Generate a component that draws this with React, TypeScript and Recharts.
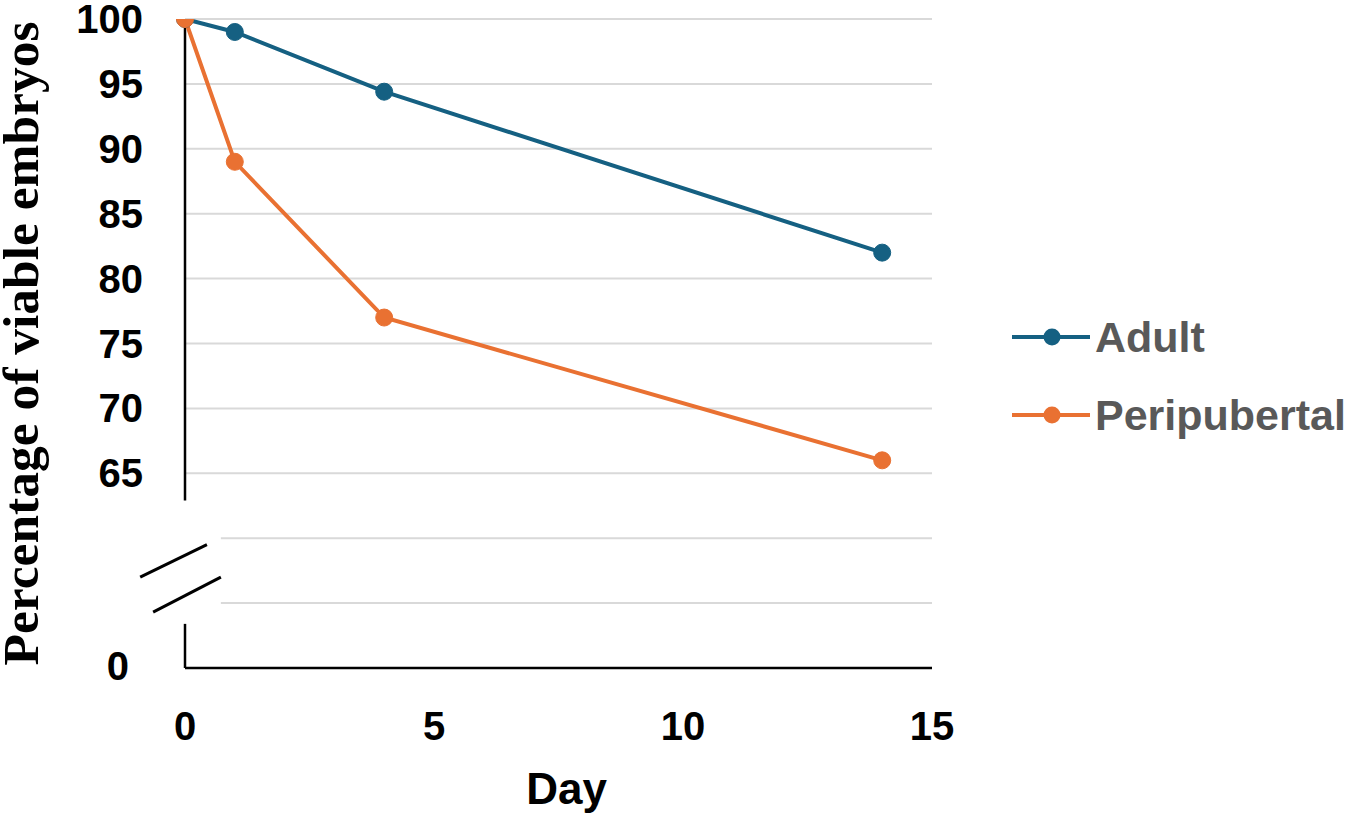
import { LineChart, Line, XAxis, YAxis, ReferenceLine } from 'recharts';

// day of sampling and % viable embryos for each group
const days = [0, 1, 4, 14];
const adult = [100, 99, 94.4, 82];
const peripubertal = [100, 89, 77, 66];

const seriesKeys = ['adult', 'peripubertal'];
const seriesNames = ['Adult', 'Peripubertal'];
const seriesColors = ['#156082', '#E97132'];

const xTicks = [0, 5, 10, 15];
// the axis is broken: the bottom of the scale (50) carries the "0" label
const yTicks = [50, 65, 70, 75, 80, 85, 90, 95, 100];
const fullGrid = [65, 70, 75, 80, 85, 90, 95, 100];
const brokenGrid = [55, 60];

const data = days.map((day, i) => ({ day, adult: adult[i], peripubertal: peripubertal[i] }));

const tickFont = '"Liberation Sans", Arial, sans-serif';

function YTick({ x, y, payload }: any) {
  const zero = payload.value === 50;
  return (
    <text
      x={x - (zero ? 56 : 42)}
      y={y}
      dy={zero ? 12 : 14}
      textAnchor="end"
      fontFamily={tickFont}
      fontWeight="bold"
      fontSize={40}
      fill="#000"
    >
      {zero ? '0' : payload.value}
    </text>
  );
}

function XTick({ x, y, payload }: any) {
  return (
    <text
      x={x}
      y={y + 72}
      textAnchor="middle"
      fontFamily={tickFont}
      fontWeight="bold"
      fontSize={40}
      fill="#000"
    >
      {payload.value}
    </text>
  );
}

function YLabel({ viewBox }: any) {
  const cx = viewBox.x + 38;
  const cy = viewBox.y + viewBox.height / 2;
  return (
    <text
      x={cx}
      y={cy}
      transform={`rotate(-90, ${cx}, ${cy})`}
      textAnchor="middle"
      fontFamily='"Liberation Serif", "Times New Roman", serif'
      fontWeight="bold"
      fontSize={51.5}
      fill="#000"
    >
      Percentage of viable embryos
    </text>
  );
}

function LegendBox() {
  return (
    <div style={{ position: 'absolute', left: 1012, top: 298, display: 'flex', flexDirection: 'column' }}>
      {seriesNames.map((name, i) => (
        <div key={name} style={{ height: 78, display: 'flex', alignItems: 'center' }}>
          <svg width={78} height={20} style={{ marginRight: 5 }}>
            <line x1={0} y1={10} x2={78} y2={10} stroke={seriesColors[i]} strokeWidth={4} />
            <circle cx={40} cy={10} r={8.5} fill={seriesColors[i]} />
          </svg>
          <span
            style={{
              fontFamily: tickFont,
              fontWeight: 'bold',
              fontSize: 43,
              lineHeight: 1,
              color: '#595959',
            }}
          >
            {name}
          </span>
        </div>
      ))}
    </div>
  );
}

export default function App() {
  return (
    <div style={{ position: 'absolute', left: 0, top: 0, width: 1350, height: 816, background: '#fff' }}>
      <LineChart width={1350} height={816} data={data} margin={{ top: 19, right: 418, bottom: 0, left: 0 }}>
        <XAxis
          dataKey="day"
          type="number"
          domain={[0, 15]}
          ticks={xTicks}
          height={148}
          tickSize={0}
          tickMargin={0}
          tickLine={false}
          axisLine={{ stroke: '#000', strokeWidth: 2.5 }}
          tick={<XTick />}
          label={{
            value: 'Day',
            position: 'insideBottom',
            offset: 12,
            dx: 8,
            style: { fontFamily: tickFont, fontWeight: 'bold', fontSize: 44, fill: '#000' },
          }}
        />
        <YAxis
          type="number"
          domain={[50, 100]}
          ticks={yTicks}
          width={185}
          allowDataOverflow
          tickSize={0}
          tickMargin={0}
          tickLine={false}
          axisLine={false}
          tick={<YTick />}
          label={<YLabel />}
        />
        {fullGrid.map((v) => (
          <ReferenceLine
            key={`g${v}`}
            segment={[{ x: 0, y: v }, { x: 15, y: v }]}
            stroke="#d9d9d9"
            strokeWidth={2}
          />
        ))}
        {brokenGrid.map((v) => (
          <ReferenceLine
            key={`b${v}`}
            segment={[{ x: 0.72, y: v }, { x: 15, y: v }]}
            stroke="#d9d9d9"
            strokeWidth={2}
          />
        ))}
        {/* broken y axis line with the two slash marks */}
        <ReferenceLine segment={[{ x: 0, y: 100 }, { x: 0, y: 62.9 }]} stroke="#000" strokeWidth={2.5} />
        <ReferenceLine segment={[{ x: 0, y: 53.4 }, { x: 0, y: 50 }]} stroke="#000" strokeWidth={2.5} />
        <ReferenceLine
          segment={[{ x: -0.9, y: 57.0 }, { x: 0.44, y: 59.5 }]}
          stroke="#000"
          strokeWidth={3}
          ifOverflow="visible"
        />
        <ReferenceLine
          segment={[{ x: -0.64, y: 54.3 }, { x: 0.72, y: 57.0 }]}
          stroke="#000"
          strokeWidth={3}
          ifOverflow="visible"
        />
        {seriesKeys.map((key, i) => (
          <Line
            key={key}
            dataKey={key}
            name={seriesNames[i]}
            stroke={seriesColors[i]}
            strokeWidth={4}
            dot={{ r: 8.5, fill: seriesColors[i], stroke: seriesColors[i], strokeWidth: 1 }}
            activeDot={false}
            isAnimationActive={false}
          />
        ))}
      </LineChart>
      <LegendBox />
    </div>
  );
}
